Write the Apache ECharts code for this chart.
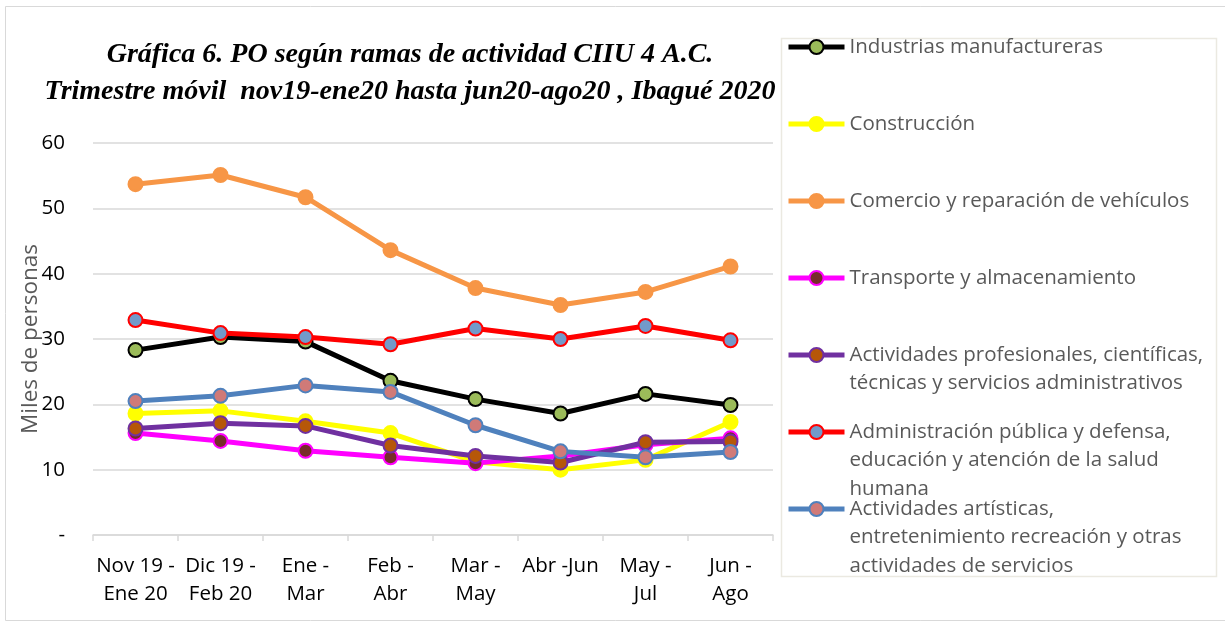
<!DOCTYPE html>
<html>
<head>
<meta charset="utf-8">
<script src="https://cdn.jsdelivr.net/npm/echarts@6/dist/echarts.min.js"></script>
<style>html,body{margin:0;padding:0;background:#fff}#c{width:1225px;height:629px}</style>
</head>
<body>
<div id="c"></div>
<script>
const categories = ['Nov 19 -\nEne 20', 'Dic 19 -\nFeb 20', 'Ene -\nMar', 'Feb -\nAbr', 'Mar -\nMay', 'Abr -Jun', 'May -\nJul', 'Jun -\nAgo'];
const yTicks = [0, 10, 20, 30, 40, 50, 60];

const industrias   = [28.3, 30.3, 29.6, 23.6, 20.8, 18.6, 21.6, 19.9];
const construccion = [18.6, 19.0, 17.4, 15.6, 11.2, 10.0, 11.5, 17.3];
const comercio     = [53.7, 55.1, 51.7, 43.6, 37.8, 35.2, 37.2, 41.1];
const transporte   = [15.6, 14.4, 12.9, 11.9, 11.0, 12.1, 13.8, 14.8];
const profesionales= [16.3, 17.1, 16.7, 13.7, 12.1, 11.1, 14.2, 14.3];
const administracion=[32.9, 30.9, 30.3, 29.2, 31.6, 30.0, 32.0, 29.8];
const artisticas   = [20.5, 21.3, 22.9, 21.9, 16.8, 12.8, 11.9, 12.7];

const seriesNames = [
  'Industrias manufactureras',
  'Construcción',
  'Comercio y reparación de vehículos',
  'Transporte y almacenamiento',
  'Actividades profesionales, científicas,\ntécnicas y servicios administrativos',
  'Administración pública y defensa,\neducación y atención de la salud\nhumana',
  'Actividades artísticas,\nentretenimiento recreación y otras\nactividades de servicios'
];
const seriesData = [industrias, construccion, comercio, transporte, profesionales, administracion, artisticas];
const lineColors = ['#000000', '#ffff00', '#f79646', '#ff00ff', '#7030a0', '#ff0000', '#4f81bd'];
const markerFill = ['#9bbb59', '#ffff00', '#f79646', '#772c2a', '#b65708', '#729aca', '#d07a78'];

const LH = 28.5;
const iconCenters = [47, 124, 201, 278, 355, 432, 509];

const series = seriesNames.map((n, i) => ({
  name: n,
  type: 'line',
  data: seriesData[i],
  symbol: 'circle',
  symbolSize: 14,
  lineStyle: { color: lineColors[i], width: 5 },
  itemStyle: { color: markerFill[i], borderColor: lineColors[i], borderWidth: 2 },
  emphasis: { disabled: true },
  z: 2 + i
}));

const legends = seriesNames.map((n, i) => {
  const lines = n.split('\n').length;
  return {
    data: [n],
    orient: 'vertical',
    left: 786,
    top: iconCenters[i] - (2 * lines - 1) * LH / 2,
    padding: 0,
    itemWidth: 56,
    itemHeight: 17.5,
    itemGap: 0,
    selectedMode: false,
    lineStyle: { width: 5 },
    formatter: name => '\n'.repeat(lines - 1) + name,
    textStyle: {
      fontFamily: 'Open Sans',
      fontSize: 20.5,
      color: '#595959',
      lineHeight: LH
    }
  };
});

const chart = echarts.init(document.getElementById('c'), null, { renderer: 'canvas' });
chart.setOption({
  animation: false,
  backgroundColor: '#ffffff',
  title: {
    text: 'Gráfica 6. PO según ramas de actividad CIIU 4 A.C.\nTrimestre móvil  nov19-ene20 hasta jun20-ago20 , Ibagué 2020',
    left: 405,
    top: 31,
    textAlign: 'center',
    textStyle: {
      fontFamily: 'Liberation Serif',
      fontStyle: 'italic',
      fontWeight: 'bold',
      fontSize: 28,
      lineHeight: 37,
      color: '#000000'
    }
  },
  graphic: [
    { type: 'rect', shape: { x: 5.5, y: 6.5, width: 1222, height: 614 }, style: { fill: 'none', stroke: '#d9d9d9', lineWidth: 1 }, silent: true, z: -1 },
    { type: 'rect', shape: { x: 781.5, y: 38.5, width: 435, height: 538 }, style: { fill: 'none', stroke: '#ebe9e1', lineWidth: 1.5 }, silent: true, z: -1 }
  ],
  legend: legends,
  grid: { left: 93, right: 452, top: 143, bottom: 94, containLabel: false },
  xAxis: {
    type: 'category',
    data: categories,
    boundaryGap: true,
    axisLine: { lineStyle: { color: '#d9d9d9', width: 1.5 } },
    axisTick: { show: true, length: 6, lineStyle: { color: '#d9d9d9', width: 1.5 } },
    axisLabel: { fontFamily: 'Open Sans', fontSize: 20.5, color: '#000000', lineHeight: 28, margin: 17, interval: 0 }
  },
  yAxis: {
    type: 'value',
    min: yTicks[0],
    max: yTicks[yTicks.length - 1],
    interval: 10,
    name: 'Miles de personas',
    nameLocation: 'middle',
    nameGap: 51,
    nameRotate: 90,
    nameMoveOverlap: false,
    nameTextStyle: { fontFamily: 'Open Sans', fontSize: 22.5, color: '#595959' },
    axisLine: { show: false },
    axisTick: { show: false },
    splitLine: { lineStyle: { color: '#d9d9d9', width: 1.5 } },
    axisLabel: {
      fontFamily: 'Open Sans', fontSize: 20.5, color: '#000000', margin: 28,
      formatter: v => (v === 0 ? '-' : String(v))
    }
  },
  series: series
});
</script>
</body>
</html>
